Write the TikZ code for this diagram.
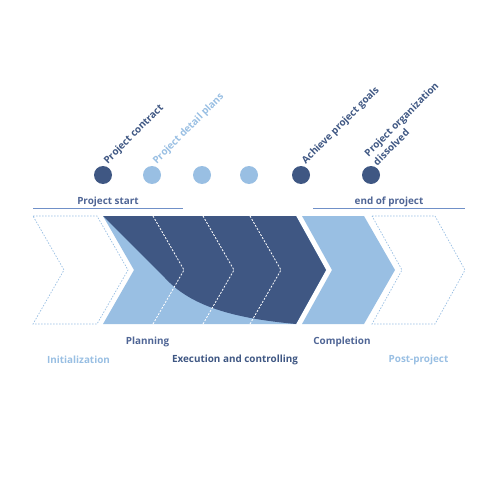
\documentclass[tikz,border=0pt]{standalone}
\usepackage{fontspec}
\setmainfont{Open Sans}
\definecolor{darkblue}{HTML}{3F5783}
\definecolor{lightblue}{HTML}{99BFE3}
\definecolor{midblue}{HTML}{4F6595}
\definecolor{lineblue}{HTML}{7090C8}
\tikzset{
  phase/.style={font=\bfseries\fontsize{9.9}{12.5}\selectfont},
  milestone/.style={circle,minimum size=18pt,inner sep=0pt},
  tag/.style={phase,rotate=45,anchor=south west,inner sep=1.5pt,align=left},
  outline/.style={lightblue,dash pattern=on 1.5pt off 1.5pt,line width=0.7pt},
  divider/.style={white,dash pattern=on 2pt off 1.5pt,line width=0.8pt},
}
\begin{document}
\begin{tikzpicture}[x=1pt,y=-1pt]
\useasboundingbox (0,0) rectangle (500,500);
% outlined phases
\draw[outline] (33,216) -- (97,216) -- (128,270) -- (97,324) -- (33,324) -- (64,270) -- cycle;
\draw[outline] (372,216) -- (435,216) -- (465,270) -- (435,324) -- (372,324) -- (402,270) -- cycle;
% filled phases
\fill[lightblue] (103,216) -- (296,216) -- (326,270) -- (296,324) -- (103,324) -- (134,270) -- cycle;
\fill[darkblue] (103,216) -- (296,216) -- (326,270) -- (296,324) .. controls (230,318) and (190,305) .. (165,278) -- cycle;
\fill[lightblue] (302,216) -- (364,216) -- (395,270) -- (364,324) -- (302,324) -- (332,270) -- cycle;
\foreach \x in {153,203,250}
  \draw[divider] (\x,216) -- (\x+31,270) -- (\x,324);
% milestones
\foreach \x/\c/\n in {103/darkblue/a,152/lightblue/b,202/lightblue/c,249/lightblue/d,301/darkblue/e,371/darkblue/f}
  \node[milestone,fill=\c] (m\n) at (\x,175) {};
\node[tag,darkblue] (contract) at (ma.north east) {Project contract};
\node[tag,lightblue] (plans) at (mb.north east) {Project detail plans};
\node[tag,darkblue] (goals) at (me.north east) {Achieve project goals};
\node[tag,darkblue] (dissolved) at (mf.north east) {Project organization\\dissolved};
% start and end
\node[phase,midblue] (start) at (108,202) {Project start};
\node[phase,midblue] (end) at (389,202) {end of project};
\draw[lineblue,line width=0.8pt] (33,208) -- (183,208);
\draw[lineblue,line width=0.8pt] (313,208) -- (465,208);
% phase names
\node[phase,midblue] (planning) at (147.5,342) {Planning};
\node[phase,midblue] (completion) at (342,342) {Completion};
\node[phase,lightblue] (init) at (78.5,360) {Initialization};
\node[phase,darkblue] (exec) at (235,360) {Execution and controlling};
\node[phase,lightblue] (post) at (418.5,360) {Post-project};
\end{tikzpicture}
\end{document}
